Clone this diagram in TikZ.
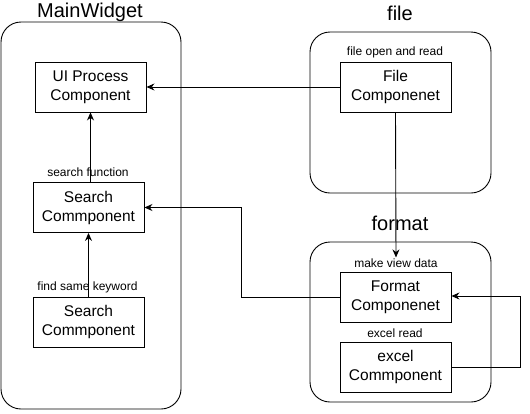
\documentclass[tikz,border=0pt]{standalone}
\usepackage{fontspec}
\setmainfont{Liberation Sans}
\usetikzlibrary{arrows.meta}

\tikzset{
  comp/.style={draw=black,line width=0.9pt,minimum width=111pt,minimum height=50pt,
    align=center,font=\fontsize{15.5}{19}\selectfont,inner sep=0pt},
  group/.style={draw=black,line width=0.9pt,rounded corners=20pt},
  title/.style={font=\fontsize{20}{24}\selectfont},
  note/.style={font=\fontsize{12}{14}\selectfont,inner sep=1pt},
  link/.style={draw=black,line width=0.9pt,-{Stealth[length=8pt,width=7pt]}},
}

\begin{document}
\begin{tikzpicture}[x=1pt,y=-1pt]
\useasboundingbox (0,0) rectangle (530,413);

% groups
\draw[group] (1,22) rectangle (181,409);
\draw[group] (310,32) rectangle (491,193);
\draw[group] (310,242) rectangle (491,402);
\node[title] (tmain) at (90,12) {MainWidget};
\node[title] (tfile) at (400,13) {file};
\node[title] (tformat) at (400,223) {format};

% components
\node[comp] (ui) at (90.5,87) {UI Process\\Component};
\node[comp] (search) at (88.5,207.5) {Search\\Commponent};
\node[comp] (keyword) at (88.5,322) {Search\\Commponent};
\node[comp] (file) at (395.5,87) {File\\Componenet};
\node[comp] (format) at (395.5,297) {Format\\Componenet};
\node[comp] (excel) at (395.5,367) {excel\\Commponent};

\node[note] (lsearch) at (88,172.5) {search function};
\node[note] (lkeyword) at (87.5,287.5) {find same keyword};
\node[note] (lfile) at (395,52.5) {file open and read};
\node[note] (lformat) at (396,263) {make view data};
\node[note] (lexcel) at (395,333) {excel read};

% links
\draw[link] (file.west) -- (ui.east);
\draw[link] (ui.south |- search.north) -- (ui.south);
\draw[link] (search.south |- keyword.north) -- (search.south);
\draw[link] (file.south) -- (lformat.north);
\draw[link] (format.west) -- ++(-98,0) |- (search.east);
\draw[link] (excel.east) -- ++(69,0) |- ([yshift=1pt]format.east);

\end{tikzpicture}
\end{document}
